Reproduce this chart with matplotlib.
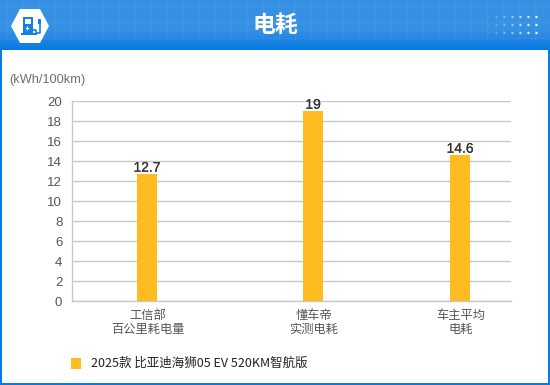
import numpy as np
import matplotlib
matplotlib.use("Agg")
import matplotlib.pyplot as plt
import matplotlib.patheffects as pe
from matplotlib.patches import Polygon, Rectangle, Circle
from matplotlib.transforms import ScaledTranslation

plt.rcParams['font.family'] = ['Noto Sans CJK SC', 'DejaVu Sans']

# Chart data
categories = ["工信部\n百公里耗电量", "懂车帝\n实测电耗", "车主平均\n电耗"]
values = [12.7, 19, 14.6]
value_labels = ["12.7", "19", "14.6"]
y_ticks = [0, 2, 4, 6, 8, 10, 12, 14, 16, 18, 20]
series_name = "2025款 比亚迪海狮05 EV 520KM智航版"
title = "电耗"
unit = "(kWh/100km)"

# Bars are not evenly spaced in the source, offsets are px from the y axis
bar_pos = [75, 241, 388]

W, H = 550, 385
BLUE = "#0a7be0"
BAR = "#ffbc20"
GRID = "#c8c8c8"

fig = plt.figure(figsize=(W / 100, H / 100), dpi=100, facecolor="white")

# Background layer in pixel coordinates, for header and frame
bg = fig.add_axes([0, 0, 1, 1])
bg.set_xlim(0, W)
bg.set_ylim(H, 0)
bg.axis("off")

# Header gradient
top = np.array([0x36, 0x90, 0xe4])
bottom = np.array([0x06, 0x78, 0xdf])
rows = np.zeros((50, 1, 3))
for i in range(50):
    t = 0 if i < 30 else (i - 30) / 19
    rows[i, 0] = (top + (bottom - top) * t) / 255
bg.imshow(rows, extent=(0, W, 50, 0), aspect="auto", zorder=1)
for gx in range(7, W, 16):
    bg.plot([gx, gx], [0, 40], color="white", alpha=0.05, lw=1, zorder=2)
for gy in range(6, 40, 16):
    bg.plot([0, W], [gy, gy], color="white", alpha=0.05, lw=1, zorder=2)

# Frame
bg.add_patch(Rectangle((0, 50), 1.5, H - 50, color=BLUE, lw=0, zorder=3))
bg.add_patch(Rectangle((W - 2, 50), 2, H - 50, color=BLUE, lw=0, zorder=3))
bg.add_patch(Rectangle((0, H - 2), W, 2, color=BLUE, lw=0, zorder=3))

# Icon: white hexagon with a charging pump
bg.add_patch(Polygon([(11, 26), (20, 9), (40, 9), (49, 26), (40, 43), (20, 43)],
                     closed=True, fc="white", ec="none", zorder=4))
bg.add_patch(Rectangle((22.5, 17), 10, 16.5, fc="#1580e2", ec="none", zorder=5))
bg.add_patch(Rectangle((20.5, 33), 16, 2, fc="#1580e2", ec="none", zorder=5))
bg.add_patch(Rectangle((24.5, 19), 6, 4.5, fc="white", ec="none", zorder=6))
bg.add_patch(Polygon([(28.2, 25.5), (25.6, 29), (27.3, 29), (26.6, 31.5), (29.6, 28), (27.8, 28)],
                     closed=True, fc="white", ec="none", zorder=6))
bg.plot([33, 35.5, 35.5, 39.5, 39.5], [30, 30, 33, 33, 22], color="#1580e2", lw=1.2, zorder=5)
bg.add_patch(Rectangle((38, 18.5), 3, 5, fc="#1580e2", ec="none", zorder=5))

# Dot pattern on the right side of the header
for row_y in (17, 25, 33):
    for k, dx in enumerate(range(488, 540, 8)):
        bg.add_patch(Circle((dx + 0.5, row_y), 1.2, fc="white", ec="none",
                            alpha=0.06 + 0.15 * k, zorder=3))

bg.text(275, 25.5, title, color="white", fontsize=16.5, fontweight="bold",
        ha="center", va="center", zorder=5)
bg.text(9, 80, unit, color="#6e6e6e", fontsize=9.2, family=["Liberation Sans"],
        ha="left", va="center", zorder=5)

# Plot area
x0, x1, y_top, y_bot = 72, 511, 101, 301
ax = fig.add_axes([x0 / W, 1 - y_bot / H, (x1 - x0) / W, (y_bot - y_top) / H])
ax.patch.set_alpha(0)
ax.set_xlim(0, x1 - x0)
ax.set_ylim(0, 20)
ax.set_axisbelow(True)
ax.yaxis.grid(True, color=GRID, lw=1)
ax.bar(bar_pos, values, width=20, color=BAR, zorder=3)

for p, v, lab in zip(bar_pos, values, value_labels):
    t = ax.annotate(lab, (p, v), xytext=(0, -0.5), textcoords="offset points", ha="center",
                    va="bottom", fontsize=10, color="#333333", family=["Liberation Sans"],
                    zorder=4)
    t.set_path_effects([pe.withStroke(linewidth=0.12, foreground="#333333")])

for s in ("top", "right"):
    ax.spines[s].set_visible(False)
for s in ("left", "bottom"):
    ax.spines[s].set_color(GRID)
    ax.spines[s].set_linewidth(1)

ax.set_yticks(y_ticks)
ax.set_yticklabels([str(t) for t in y_ticks], family=["Liberation Sans"], fontsize=9.5, color="#555555")
ax.set_xticks(bar_pos)
ax.set_xticklabels(categories, fontsize=8.8, color="#555555", linespacing=1.08)
ax.tick_params(axis="both", length=0)
ax.tick_params(axis="y", pad=7)
ax.tick_params(axis="x", pad=6)

# Category labels sit about 1px right of the bars
shift = ScaledTranslation(1 / 100, 0, fig.dpi_scale_trans)
for lbl in ax.get_xticklabels():
    lbl.set_transform(lbl.get_transform() + shift)

# Legend
bg.add_patch(Rectangle((71, 358), 10, 11, fc=BAR, ec="none", zorder=5))
bg.text(91, 363, series_name, color="#222222", fontsize=9.0, ha="left", va="center", zorder=5)

fig.savefig("out.png", dpi=100)
